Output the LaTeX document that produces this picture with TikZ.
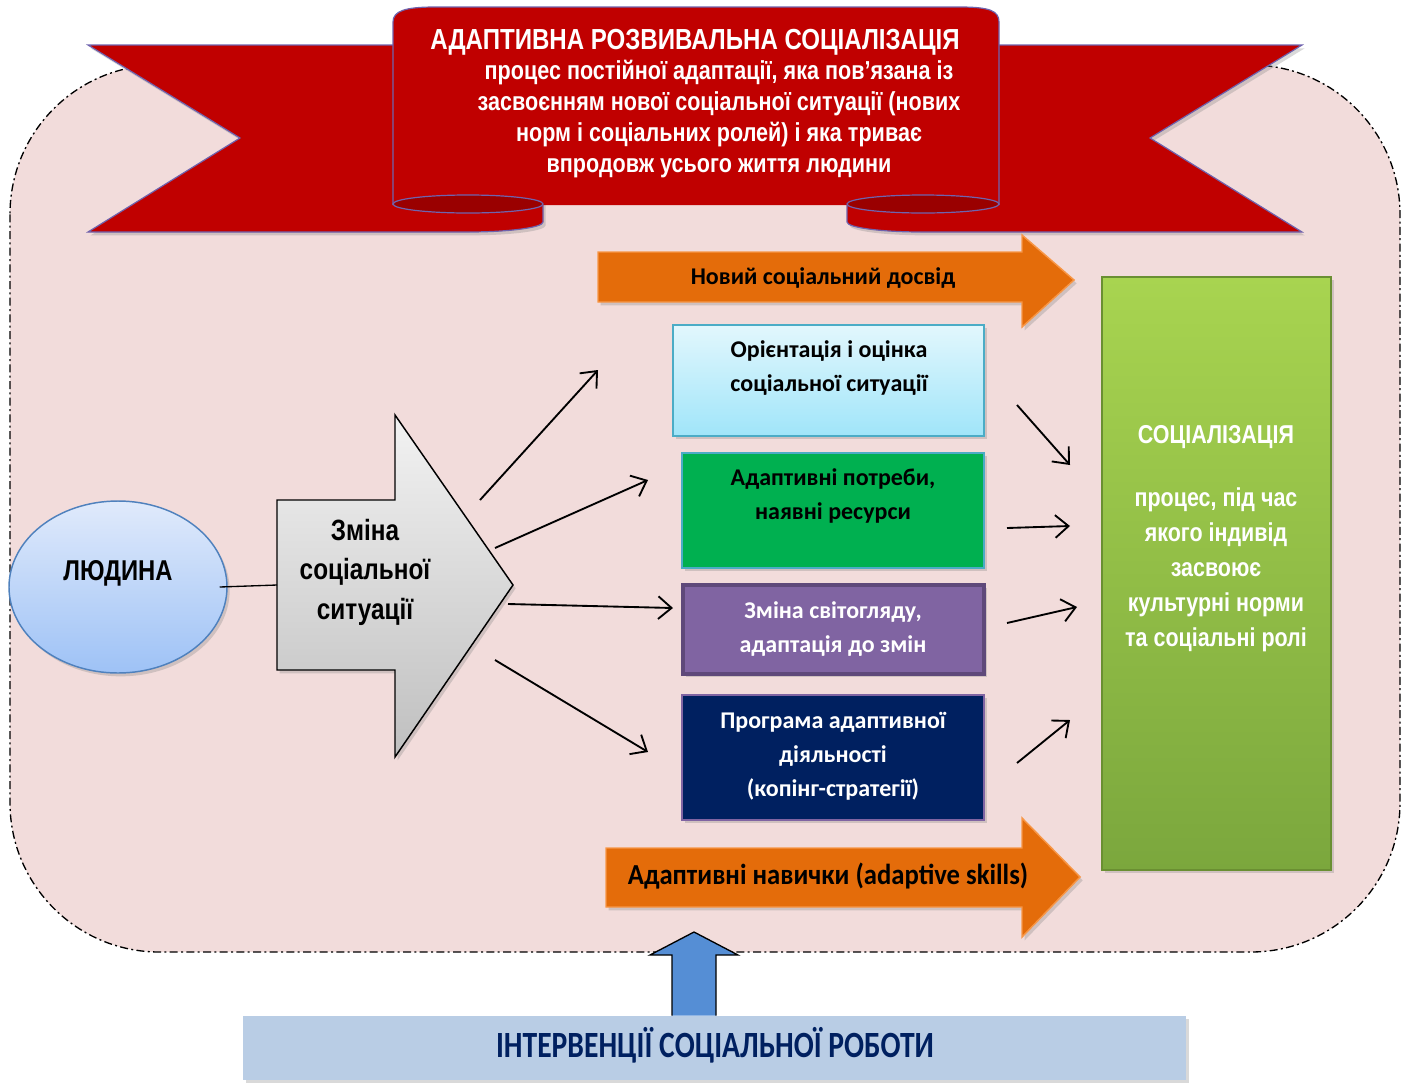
\documentclass[tikz,border=0pt]{standalone}
\usepackage{fontspec}
\setmainfont{Liberation Sans}
\newfontfamily\arialn[FakeStretch=0.83]{Liberation Sans}
\newfontfamily\calib{Carlito}
\newfontfamily\calibm[FakeStretch=0.92]{Carlito}
\newfontfamily\calibn[FakeStretch=0.8]{Carlito}
\usetikzlibrary{arrows.meta,shadows,shapes.geometric,positioning}

\definecolor{rozh}{HTML}{F2DCDB}
\definecolor{chervon}{HTML}{C00000}
\definecolor{temnochervon}{HTML}{9A0000}
\definecolor{obvid}{HTML}{6F63AE}
\definecolor{pomar}{HTML}{E46C0A}
\definecolor{pomarsvit}{HTML}{F79646}
\definecolor{blakyt}{HTML}{4BACC6}
\definecolor{blakytverh}{HTML}{E2F7FD}
\definecolor{blakytniz}{HTML}{A0E5F9}
\definecolor{zelen}{HTML}{00B050}
\definecolor{fiolet}{HTML}{8064A2}
\definecolor{fiolettemn}{HTML}{5F497A}
\definecolor{temnosyn}{HTML}{002060}
\definecolor{syn}{HTML}{558ED5}
\definecolor{sirosyn}{HTML}{B9CDE5}
\definecolor{elobvid}{HTML}{4F81BD}
\definecolor{elverh}{HTML}{E0EAFB}
\definecolor{elniz}{HTML}{9EC2F6}
\definecolor{salatverh}{HTML}{A8D450}
\definecolor{salatniz}{HTML}{7BA73D}
\definecolor{salatobvid}{HTML}{6A8F32}

\begin{document}
\begin{tikzpicture}[
      x=0.75pt, y=-0.75pt,
      tin/.style={
        drop shadow={shadow xshift=2pt, shadow yshift=-2.5pt, opacity=0.3}
      },
      blok/.style 2 args={
        rectangle,
        inner sep=0pt,
        minimum width=#1*0.75pt,
        minimum height=#2*0.75pt,
        tin
      },
      boxtxt/.style={
        align=center,
        inner sep=0pt,
        font=\calib\bfseries\fontsize{18}{25.5}\selectfont
      },
      arialtxt/.style={
        align=center,
        inner sep=0pt,
        font=\arialn\bfseries\fontsize{21.5}{29.6}\selectfont
      },
      strilka/.style={
        line width=1.4pt,
        -{Straight Barb[length=10pt,width=17pt,line width=1.4pt]}
      },
      pomarstr/.style={
        fill=pomar,
        draw=pomarsvit,
        line width=1.1pt,
        tin
      }
    ]
    \useasboundingbox (0,0) rectangle (1406,1082);

    % rozheve pole
    \draw[fill=rozh, line width=1pt, dash pattern=on 6pt off 2.5pt on 1.5pt off 2.5pt,
          rounded corners=112pt] (10,65) rectangle (1400,952);

    % strichka
    \path[fill=chervon, draw=obvid, line width=0.9pt, tin]
      (88,45) -- (543,45) -- (543,222)
      arc[start angle=0, end angle=90, x radius=75, y radius=10]
      -- (88,232) -- (240,138) -- cycle;
    \path[fill=chervon, draw=obvid, line width=0.9pt, tin]
      (1302,45) -- (847,45) -- (847,222)
      arc[start angle=180, end angle=90, x radius=75, y radius=10]
      -- (1302,232) -- (1150,138) -- cycle;
    \fill[chervon] (393,205) -- (393,22) .. controls (393,11) and (405,7) .. (435,7)
      -- (960,7) .. controls (990,7) and (999,11) .. (999,22) -- (999,205) -- cycle;
    \draw[obvid, line width=0.9pt] (393,205) -- (393,22) .. controls (393,11) and (405,7) .. (435,7)
      -- (960,7) .. controls (990,7) and (999,11) .. (999,22) -- (999,205);
    \draw[fill=temnochervon, draw=obvid, line width=0.9pt] (468,204) ellipse[x radius=75, y radius=9];
    \draw[fill=temnochervon, draw=obvid, line width=0.9pt] (923,204) ellipse[x radius=76, y radius=9];

    \node[text=white, inner sep=0pt, font=\arialn\bfseries\fontsize{21.75}{26}\selectfont]
      (tytul) at (695,42) {АДАПТИВНА РОЗВИВАЛЬНА СОЦІАЛІЗАЦІЯ};
    \node[text=white, align=center, inner sep=0pt, font=\arialn\bfseries\fontsize{19.5}{23.25}\selectfont]
      (opys) at (719,119.5) {процес постійної адаптації, яка пов’язана із\\
      засвоєнням нової соціальної ситуації (нових\\
      норм і соціальних ролей) і яка триває\\
      впродовж усього життя людини};

    % ljudyna i zmina
    \node[ellipse, inner sep=0pt, minimum width=218*0.75pt, minimum height=172*0.75pt,
          top color=elverh, bottom color=elniz,
          draw=elobvid, line width=1.1pt, tin] (lud) at (118,587) {};
    \node[arialtxt] (ludT) at (118,573) {ЛЮДИНА};

    \path[top color=gray!10, bottom color=gray!50, draw=black, line width=1.1pt, tin]
      (277,500) -- (395,500) -- (395,415) -- (513,585) -- (395,757) -- (395,670) -- (277,670) -- cycle;
    \node[coordinate] (zminaL) at (277,585) {};
    \node[arialtxt, font=\arialn\bfseries\fontsize{22}{29.6}\selectfont]
      (zminaT) at (365,572) {Зміна\\соціальної\\ситуації};
    \draw[line width=1pt] ([xshift=-6pt]lud.east) -- (zminaL);

    % pomarancevi strilky
    \path[pomarstr] (598,252) -- (1022,252) -- (1022,235) -- (1074,280) -- (1022,327)
      -- (1022,302) -- (598,302) -- cycle;
    \node[boxtxt] (dosvidT) at (823,278) {Новий соціальний досвід};
    \path[pomarstr] (606,848) -- (1022,848) -- (1022,818) -- (1080,877) -- (1022,937)
      -- (1022,907) -- (606,907) -- cycle;
    \node[boxtxt, font=\calibm\bfseries\fontsize{21.75}{26}\selectfont]
      (navychT) at (828,876) {Адаптивні навички (adaptive skills)};

    % bloky
    \node[blok={311}{111}, top color=blakytverh, bottom color=blakytniz,
          draw=blakyt, line width=1.1pt] (orient) at (828.5,380.5) {};
    \node[boxtxt] (orientT) at (829,368) {Орієнтація і оцінка\\соціальної ситуації};
    \node[blok={302}{115}, fill=zelen, draw=blakyt, line width=1.1pt] (potreby) at (833,510.5) {};
    \node[boxtxt] (potrebyT) at (833,496) {Адаптивні потреби,\\наявні ресурси};
    \node[blok={301}{89}, fill=fiolet, draw=fiolettemn, line width=3pt] (svit) at (833.5,629.5) {};
    \node[boxtxt, text=white] (svitT) at (833,629.5) {Зміна світогляду,\\адаптація до змін};
    \node[blok={302}{125}, fill=temnosyn, draw=fiolet, line width=1.1pt] (prog) at (833,757.5) {};
    \node[boxtxt, text=white] (progT) at (833,756) {Програма адаптивної\\діяльності\\(копінг-стратегії)};

    \node[blok={229}{593}, top color=salatverh, bottom color=salatniz,
          draw=salatobvid, line width=0.8pt] (soc) at (1216.5,573.5) {};
    \node[arialtxt, text=white, font=\arialn\bfseries\fontsize{19.4}{26.25}\selectfont]
      (socT) at (1216,437) {СОЦІАЛІЗАЦІЯ};
    \node[arialtxt, text=white, font=\arialn\bfseries\fontsize{19.4}{26.25}\selectfont]
      (socO) at (1216,570) {процес, під час\\якого індивід\\засвоює\\культурні норми\\та соціальні ролі};

    % malenki strilky
    \node[coordinate] (l1a) at (480,500) {};
    \node[coordinate] (l1b) at (598,370) {};
    \node[coordinate] (l2a) at (495,548) {};
    \node[coordinate] (l2b) at (648,480) {};
    \node[coordinate] (l3a) at (508,604) {};
    \node[coordinate] (l3b) at (673,608) {};
    \node[coordinate] (l4a) at (495,660) {};
    \node[coordinate] (l4b) at (648,752) {};
    \node[coordinate] (r1a) at (1017,405) {};
    \node[coordinate] (r1b) at (1070,465) {};
    \node[coordinate] (r2a) at (1007,528) {};
    \node[coordinate] (r2b) at (1070,526) {};
    \node[coordinate] (r3a) at (1007,623) {};
    \node[coordinate] (r3b) at (1077,607) {};
    \node[coordinate] (r4a) at (1017,763) {};
    \node[coordinate] (r4b) at (1070,720) {};
    \draw[strilka] (l1a) -- (l1b);
    \draw[strilka] (l2a) -- (l2b);
    \draw[strilka] (l3a) -- (l3b);
    \draw[strilka] (l4a) -- (l4b);
    \draw[strilka] (r1a) -- (r1b);
    \draw[strilka] (r2a) -- (r2b);
    \draw[strilka] (r3a) -- (r3b);
    \draw[strilka] (r4a) -- (r4b);

    % intervencii
    \node[blok={943}{64}, fill=sirosyn] (interv) at (714.5,1048) {};
    \node[inner sep=0pt, text=temnosyn, font=\calibn\bfseries\fontsize{27.75}{30}\selectfont]
      (intervT) at (715,1045) {ІНТЕРВЕНЦІЇ СОЦІАЛЬНОЇ РОБОТИ};
    \draw[fill=syn, line width=1pt] (interv.north -| 672,0) -- (672,955) -- (650,955) -- (694,932)
      -- (738,955) -- (716,955) -- (interv.north -| 716,0);
  \end{tikzpicture}
\end{document}
